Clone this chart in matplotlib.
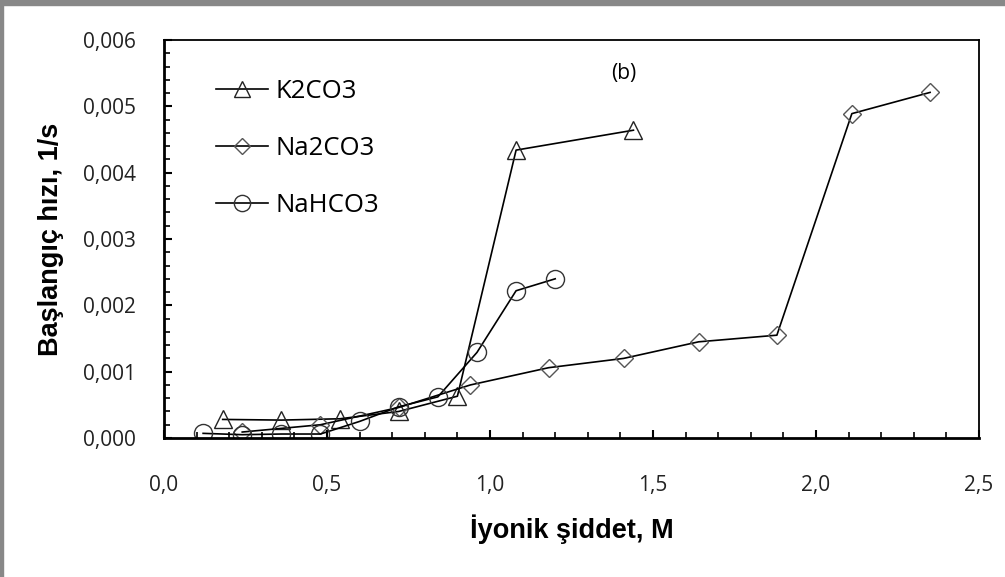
import numpy as np
import matplotlib.pyplot as plt
from matplotlib.ticker import MultipleLocator, FuncFormatter
from matplotlib.patches import Rectangle

# iyonik siddet (M) ve baslangic hizi (1/s)
k2co3_x = [0.18, 0.36, 0.54, 0.72, 0.90, 1.08, 1.44]
k2co3_y = [0.00028, 0.00027, 0.00029, 0.00040, 0.00063, 0.00434, 0.00464]

na2co3_x = [0.24, 0.48, 0.72, 0.94, 1.18, 1.41, 1.64, 1.88, 2.11, 2.35]
na2co3_y = [0.00009, 0.00020, 0.00046, 0.00080, 0.00106, 0.00120, 0.00145, 0.00155, 0.00489, 0.00521]

nahco3_x = [0.12, 0.24, 0.36, 0.48, 0.60, 0.72, 0.84, 0.96, 1.08, 1.20]
nahco3_y = [0.00007, 0.00005, 0.00006, 0.00006, 0.00025, 0.00047, 0.00062, 0.00129, 0.00222, 0.00240]

tick_font = 'Open Sans'

fig = plt.figure(figsize=(10.05, 5.77), dpi=100)
ax = fig.add_axes([164 / 1005, 1 - 438 / 577, 815 / 1005, 398 / 577])

ax.plot(k2co3_x, k2co3_y, color='black', lw=1.2, marker='^', ms=13,
        mfc='none', mec='#222222', mew=1.0, label='K2CO3')
ax.plot(na2co3_x, na2co3_y, color='black', lw=1.2, marker='D', ms=9,
        mfc='none', mec='#555555', mew=1.0, label='Na2CO3')
ax.plot(nahco3_x, nahco3_y, color='black', lw=1.2, marker='o', ms=13,
        mfc='none', mec='#333333', mew=1.0, label='NaHCO3')

ax.set_xlim(0, 2.5)
ax.set_ylim(0, 0.006)
ax.xaxis.set_major_locator(MultipleLocator(0.5))
ax.xaxis.set_minor_locator(MultipleLocator(0.1))
ax.yaxis.set_major_locator(MultipleLocator(0.001))
ax.yaxis.set_minor_locator(MultipleLocator(0.0002))
ax.xaxis.set_major_formatter(FuncFormatter(lambda v, p: f'{v:.1f}'.replace('.', ',')))
ax.yaxis.set_major_formatter(FuncFormatter(lambda v, p: f'{v:.3f}'.replace('.', ',')))

ax.tick_params(axis='both', which='both', direction='in', color='black')
ax.tick_params(axis='both', which='major', length=6, width=1.5)
ax.tick_params(axis='both', which='minor', length=4, width=1.2)
ax.tick_params(axis='x', which='major', pad=27, labelsize=15)
ax.tick_params(axis='y', which='major', pad=20, labelsize=15)
ax.tick_params(top=False, right=False, which='both')
for lab in ax.get_xticklabels() + ax.get_yticklabels():
    lab.set_fontfamily(tick_font)
    lab.set_color('#222222')

for side in ['left', 'bottom']:
    ax.spines[side].set_linewidth(2.0)
for side in ['top', 'right']:
    ax.spines[side].set_linewidth(1.3)

ax.set_xlabel('İyonik şiddet, M', fontfamily='Liberation Sans', fontweight='bold',
              fontsize=19.5, labelpad=13)
ax.set_ylabel('Başlangıç hızı, 1/s', fontfamily='Liberation Sans', fontweight='bold',
              fontsize=19.5, labelpad=14)

ax.text(0.564, 0.915, '(b)', transform=ax.transAxes, fontsize=15,
        fontfamily=tick_font, ha='center', va='center')

leg = ax.legend(loc='upper left', bbox_to_anchor=(0.036, 0.96), frameon=False,
                markerscale=0.9, handlelength=2.0, handletextpad=0.3,
                labelspacing=1.25, prop={'family': tick_font, 'size': 18.5})

# grey frame around the picture (top and left only)
fig.patches.append(Rectangle((0, 1 - 5 / 577), 1, 5 / 577, transform=fig.transFigure,
                             color='#888888', zorder=0))
fig.patches.append(Rectangle((0, 0), 3 / 1005, 1, transform=fig.transFigure,
                             color='#888888', zorder=0))

fig.savefig('out.png', dpi=100)
